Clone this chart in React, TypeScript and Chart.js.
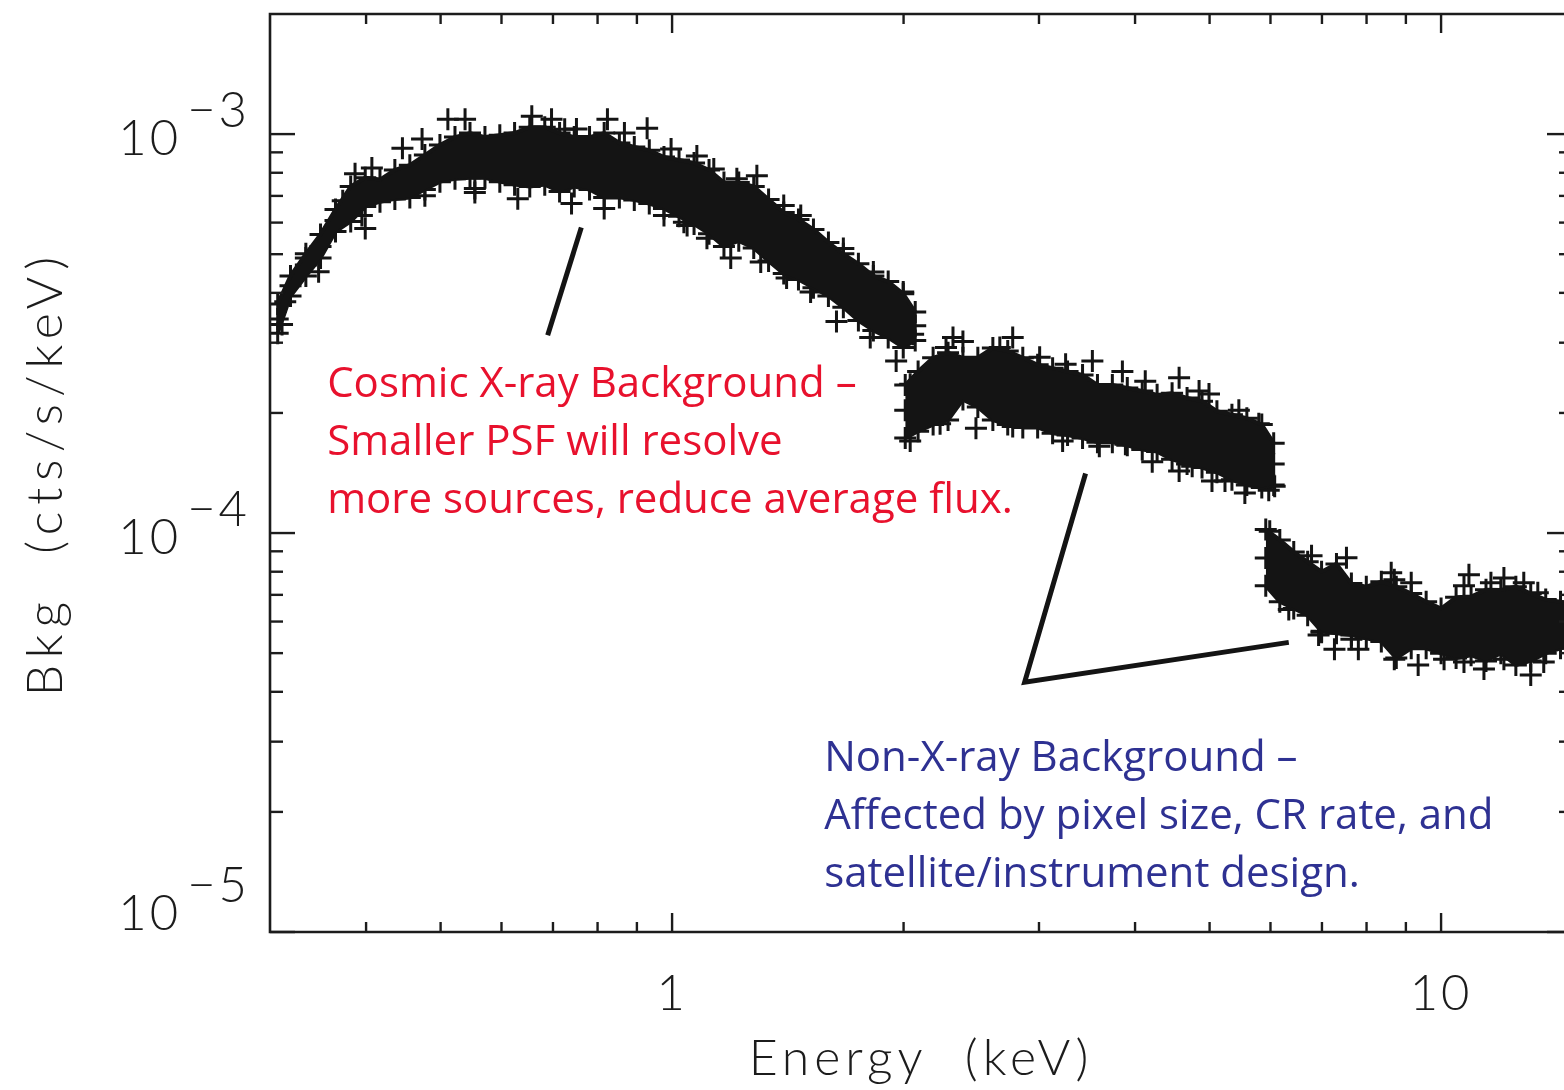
import React, { useEffect, useRef } from "react";
import { Chart, registerables } from "chart.js";

Chart.register(...registerables);

// ---------------- Data: energy (keV) vs background (cts/s/keV) ----------------
// Cosmic X-ray background dominated part (0.3 – 2 keV)
const cxbEnergy = [
  0.307, 0.319, 0.334, 0.349, 0.365, 0.382, 0.399, 0.417, 0.436, 0.456, 0.477,
  0.499, 0.522, 0.546, 0.571, 0.597, 0.624, 0.653, 0.683, 0.714, 0.746, 0.781,
  0.816, 0.854, 0.893, 0.934, 0.976, 1.021, 1.068, 1.117, 1.168, 1.221, 1.277,
  1.335, 1.397, 1.46, 1.527, 1.597, 1.67, 1.747, 1.827, 1.91, 1.998, 2.071,
];
const cxbUpper = [
  3.75e-4, 4.41e-4, 5.01e-4, 5.6e-4, 6.47e-4, 7.39e-4, 7.77e-4, 7.69e-4, 8.13e-4, 8.36e-4, 8.86e-4,
  9.39e-4, 9.83e-4, 1.006e-3, 9.83e-4, 9.94e-4, 1.006e-3, 1.041e-3, 1.041e-3, 1.006e-3, 9.83e-4, 9.83e-4,
  1.006e-3, 9.5e-4, 9.28e-4, 9.11e-4, 8.76e-4, 8.61e-4, 8.46e-4, 8.13e-4, 7.56e-4, 7.56e-4, 7.39e-4,
  6.86e-4, 6.36e-4, 6.11e-4, 5.77e-4, 5.35e-4, 5.01e-4, 4.73e-4, 4.41e-4, 4.27e-4, 3.98e-4, 3.58e-4,
];
const cxbMiddle = [
  3.44e-4, 4.17e-4, 4.7e-4, 5.23e-4, 6.07e-4, 6.7e-4, 7.18e-4, 7.22e-4, 7.52e-4, 7.64e-4, 8.03e-4,
  8.41e-4, 8.71e-4, 8.86e-4, 8.76e-4, 8.71e-4, 8.66e-4, 8.76e-4, 8.81e-4, 8.51e-4, 8.51e-4, 8.46e-4,
  8.36e-4, 8.13e-4, 8.0e-4, 7.82e-4, 7.56e-4, 7.35e-4, 7.1e-4, 6.77e-4, 6.29e-4, 6.39e-4, 6.18e-4,
  5.73e-4, 5.32e-4, 5.14e-4, 4.89e-4, 4.59e-4, 4.29e-4, 4.02e-4, 3.77e-4, 3.62e-4, 3.41e-4, 3.31e-4,
];
const cxbLower = [
  3.17e-4, 3.93e-4, 4.41e-4, 4.89e-4, 5.7e-4, 6.04e-4, 6.58e-4, 6.77e-4, 6.88e-4, 6.94e-4, 7.26e-4,
  7.6e-4, 7.73e-4, 7.77e-4, 7.77e-4, 7.6e-4, 7.47e-4, 7.39e-4, 7.47e-4, 7.18e-4, 7.39e-4, 7.26e-4,
  6.94e-4, 6.94e-4, 6.84e-4, 6.7e-4, 6.51e-4, 6.22e-4, 5.95e-4, 5.63e-4, 5.23e-4, 5.4e-4, 5.18e-4,
  4.81e-4, 4.47e-4, 4.32e-4, 4.12e-4, 3.93e-4, 3.68e-4, 3.41e-4, 3.22e-4, 3.09e-4, 2.92e-4, 3.04e-4,
];

// Non-X-ray background, 2 – 6 keV
const nxbEnergy = [
  2.01, 2.089, 2.185, 2.285, 2.389, 2.498, 2.613, 2.732, 2.858, 2.988, 3.125, 3.268, 3.418,
  3.574, 3.737, 3.908, 4.087, 4.273, 4.469, 4.674, 4.888, 5.111, 5.346, 5.59, 5.846, 6.058,
];
const nxbUpper = [
  2.35e-4, 2.54e-4, 2.75e-4, 2.83e-4, 2.75e-4, 2.75e-4, 2.91e-4, 2.86e-4, 2.75e-4, 2.64e-4, 2.59e-4, 2.54e-4, 2.49e-4,
  2.35e-4, 2.35e-4, 2.31e-4, 2.27e-4, 2.22e-4, 2.24e-4, 2.18e-4, 2.14e-4, 2.02e-4, 1.98e-4, 1.94e-4, 1.87e-4, 1.68e-4,
];
const nxbMiddle = [
  2.03e-4, 2.15e-4, 2.26e-4, 2.32e-4, 2.43e-4, 2.39e-4, 2.36e-4, 2.31e-4, 2.24e-4, 2.2e-4, 2.15e-4, 2.12e-4, 2.09e-4,
  2.0e-4, 1.94e-4, 1.96e-4, 1.92e-4, 1.89e-4, 1.86e-4, 1.8e-4, 1.77e-4, 1.69e-4, 1.64e-4, 1.61e-4, 1.56e-4, 1.49e-4,
];
const nxbLower = [
  1.73e-4, 1.8e-4, 1.87e-4, 1.92e-4, 2.16e-4, 2.07e-4, 1.92e-4, 1.87e-4, 1.84e-4, 1.84e-4, 1.78e-4, 1.76e-4, 1.73e-4,
  1.69e-4, 1.69e-4, 1.66e-4, 1.62e-4, 1.6e-4, 1.53e-4, 1.49e-4, 1.46e-4, 1.42e-4, 1.36e-4, 1.32e-4, 1.3e-4, 1.32e-4,
];

// Non-X-ray background, above 6 keV
const hardEnergy = [
  5.916, 6.17, 6.433, 6.707, 6.992, 7.311, 7.645, 7.994, 8.362, 8.745, 9.145,
  9.563, 10.0, 10.46, 10.94, 11.44, 11.96, 12.51, 13.08, 13.68, 14.3, 14.83,
];
const hardUpper = [
  1.02e-4, 9.61e-5, 8.97e-5, 8.47e-5, 8.0e-5, 8.37e-5, 7.47e-5, 7.34e-5, 7.55e-5, 7.34e-5, 7.05e-5,
  6.73e-5, 6.47e-5, 6.9e-5, 6.93e-5, 7.21e-5, 7.2e-5, 7.34e-5, 7.05e-5, 6.81e-5, 6.73e-5, 6.62e-5,
];
const hardMiddle = [
  8.66e-5, 8.04e-5, 7.64e-5, 7.26e-5, 6.73e-5, 6.85e-5, 6.43e-5, 6.32e-5, 6.36e-5, 5.97e-5, 6.04e-5,
  5.9e-5, 5.71e-5, 6.04e-5, 5.87e-5, 5.87e-5, 6.14e-5, 5.87e-5, 5.8e-5, 5.84e-5, 5.9e-5, 5.9e-5,
];
const hardLower = [
  7.38e-5, 6.73e-5, 6.47e-5, 6.22e-5, 5.67e-5, 5.61e-5, 5.55e-5, 5.45e-5, 5.35e-5, 4.86e-5, 5.14e-5,
  5.14e-5, 5.0e-5, 4.86e-5, 4.94e-5, 4.78e-5, 5.0e-5, 4.67e-5, 4.78e-5, 5.0e-5, 5.14e-5, 5.23e-5,
];

// Individual points visible along the edges of the band
const edgeEnergy = [
  0.511, 0.538, 0.473, 0.373, 0.334, 0.314, 0.311, 0.395, 0.477, 0.554,
  0.63, 0.976, 1.046, 1.11, 0.725, 0.997, 1.077, 1.133, 1.214, 1.289,
  1.397, 1.47, 1.67, 1.827, 1.998, 1.036, 1.304, 1.409, 1.514, 2.058,
  2.04, 2.271, 2.389, 2.668, 3.006, 3.249, 4.124, 4.991, 5.794, 2.773, 3.22, 3.594, 3.886, 4.746, 5.236, 6.076,
  6.785, 8.693, 9.145, 10.71, 11.61, 13.36, 6.992, 7.645, 8.693, 10.09, 10.71, 12.07, 13.6,
];
const edgeValue = [
  1.09e-3, 1.09e-3, 9.72e-4, 6.81e-4, 4.89e-4, 3.8e-4, 3.33e-4, 6.25e-4, 7.01e-4, 7.3e-4,
  6.89e-4, 6.25e-4, 5.9e-4, 5.48e-4, 1.029e-3, 9.18e-4, 8.81e-4, 8.18e-4, 7.73e-4, 7.86e-4,
  6.62e-4, 6.25e-4, 5.17e-4, 4.51e-4, 4.02e-4, 6.01e-4, 4.78e-4, 4.36e-4, 4.02e-4, 3.15e-4,
  2.36e-4, 2.92e-4, 3.02e-4, 2.92e-4, 2.76e-4, 2.65e-4, 2.4e-4, 2.23e-4, 1.88e-4, 1.85e-4, 1.7e-4, 1.65e-4, 1.67e-4, 1.47e-4, 1.35e-4, 1.31e-4,
  8.77e-5, 7.64e-5, 7.51e-5, 7.38e-5, 7.51e-5, 7.09e-5, 5.64e-5, 5.42e-5, 4.83e-5, 4.83e-5, 4.75e-5, 4.83e-5, 4.75e-5,
];

// Scattered points lying outside the dense band
const outlierEnergy = [
  0.387, 0.407, 0.446, 0.657, 0.697, 0.751, 0.824, 0.867, 0.928, 0.399, 0.347, 0.74, 0.816, 0.554,
  1.192, 1.636, 1.81, 1.956,
  2.319, 2.773, 3.52, 3.851, 4.564, 4.845, 5.458, 2.04, 2.231, 2.484, 4.211, 4.564, 5.036, 5.557, 5.969,
  5.987, 7.533, 8.613, 10.87, 12.07, 12.81, 6.338, 6.93, 7.267, 7.806, 9.337, 11.37, 13.08,
];
const outlierValue = [
  7.95e-4, 8.22e-4, 9.22e-4, 1.108e-3, 1.09e-3, 1.03e-3, 1.09e-3, 1.006e-3, 1.035e-3, 5.8e-4, 4.52e-4, 6.7e-4, 6.51e-4, 7.14e-4,
  4.89e-4, 3.39e-4, 3.09e-4, 2.7e-4,
  3.09e-4, 3.09e-4, 2.7e-4, 2.54e-4, 2.45e-4, 2.27e-4, 2.03e-4, 1.7e-4, 1.88e-4, 1.83e-4, 1.51e-4, 1.43e-4, 1.35e-4, 1.26e-4, 1.28e-4,
  1.01e-4, 8.67e-5, 7.95e-5, 7.86e-5, 7.72e-5, 7.51e-5, 6.43e-5, 5.55e-5, 5.11e-5, 5.11e-5, 4.67e-5, 4.56e-5, 4.41e-5,
];

// Axes
const X_MIN = 0.305;
const X_MAX = 14.8;
const Y_MIN = 1e-5;
const Y_MAX = 2e-3;
const xTickMajor = [1, 10];
const xTickLabels = ["1", "10"];
const xTickMinor = [0.4, 0.5, 0.6, 0.7, 0.8, 0.9, 2, 3, 4, 5, 6, 7, 8, 9];
const yTickMajor = [1e-5, 1e-4, 1e-3];
const yTickExponents = ["−5", "−4", "−3"];
const yTickMinor = [
  2e-5, 3e-5, 4e-5, 5e-5, 6e-5, 7e-5, 8e-5, 9e-5,
  2e-4, 3e-4, 4e-4, 5e-4, 6e-4, 7e-4, 8e-4, 9e-4,
];
const xAxisTitle = "Energy  (keV)";
const yAxisTitle = "Bkg  (cts/s/keV)";

// Annotations (anchored in data coordinates)
const cxbNote = [
  "Cosmic X-ray Background –",
  "Smaller PSF will resolve",
  "more sources, reduce average flux.",
];
const cxbNoteAnchor = [0.356, 2.19e-4];
const cxbPointer = [
  [0.762, 5.83e-4],
  [0.689, 3.13e-4],
];
const nxbNote = [
  "Non-X-ray Background –",
  "Affected by pixel size, CR rate, and",
  "satellite/instrument design.",
];
const nxbNoteAnchor = [1.577, 2.53e-5];
const nxbPointer = [
  [3.449, 1.41e-4],
  [2.874, 4.23e-5],
  [6.338, 5.32e-5],
];

// ---------------- Styling ----------------
const CANVAS_W = 1600;
const CANVAS_H = 1090;
const INK = "#141414";
const AXIS_COLOR = "#1c1c1c";
const RED = "#E8112D";
const BLUE = "#2E3192";
const AXIS_FONT = '"Lato", "DejaVu Sans", sans-serif';
const NOTE_FONT = '"Open Sans", "Noto Sans", sans-serif';

const pts = (xs: number[], ys: number[]) => xs.map((x, i) => ({ x, y: ys[i] }));

const segments = [
  { energy: cxbEnergy, upper: cxbUpper, middle: cxbMiddle, lower: cxbLower },
  { energy: nxbEnergy, upper: nxbUpper, middle: nxbMiddle, lower: nxbLower },
  { energy: hardEnergy, upper: hardUpper, middle: hardMiddle, lower: hardLower },
];

function buildDatasets() {
  const ds: any[] = [];
  const crosses: { x: number; y: number }[] = [];
  segments.forEach((s) => {
    ds.push({
      data: pts(s.energy, s.upper),
      fill: "+1",
      backgroundColor: INK,
      borderColor: INK,
      borderWidth: 4,
      borderJoinStyle: "round",
      pointRadius: 0,
      tension: 0,
      clip: 0,
    });
    ds.push({
      data: pts(s.energy, s.lower),
      fill: false,
      borderColor: INK,
      borderWidth: 4,
      borderJoinStyle: "round",
      pointRadius: 0,
      tension: 0,
      clip: 0,
    });
    crosses.push(...pts(s.energy, s.upper), ...pts(s.energy, s.middle), ...pts(s.energy, s.lower));
  });
  crosses.push(...pts(edgeEnergy, edgeValue));
  crosses.push(...pts(outlierEnergy, outlierValue));
  ds.push({
    data: crosses,
    showLine: false,
    pointStyle: "cross",
    pointRadius: 11,
    pointBorderWidth: 3,
    pointBorderColor: INK,
    pointBackgroundColor: INK,
    clip: 0,
  });
  return ds;
}

const axesPlugin = {
  id: "idlAxes",
  afterDatasetsDraw(chart: any) {
    const { ctx, chartArea: a, scales } = chart;
    const xs = scales.x;
    const ys = scales.y;
    ctx.save();
    ctx.strokeStyle = AXIS_COLOR;
    ctx.lineWidth = 2.6;
    ctx.lineCap = "butt";
    ctx.beginPath();
    ctx.rect(a.left, a.top, a.right - a.left, a.bottom - a.top);
    ctx.stroke();
    const seg = (x1: number, y1: number, x2: number, y2: number) => {
      ctx.beginPath();
      ctx.moveTo(x1, y1);
      ctx.lineTo(x2, y2);
      ctx.stroke();
    };
    ctx.lineWidth = 2.4;
    xTickMajor.forEach((v) => {
      const px = xs.getPixelForValue(v);
      seg(px, a.bottom, px, a.bottom - 19);
      seg(px, a.top, px, a.top + 19);
    });
    xTickMinor.forEach((v) => {
      const px = xs.getPixelForValue(v);
      seg(px, a.bottom, px, a.bottom - 10);
      seg(px, a.top, px, a.top + 10);
    });
    yTickMajor.forEach((v) => {
      const py = ys.getPixelForValue(v);
      seg(a.left, py, a.left + 25, py);
      seg(a.right, py, a.right - 25, py);
    });
    yTickMinor.forEach((v) => {
      const py = ys.getPixelForValue(v);
      seg(a.left, py, a.left + 13, py);
      seg(a.right, py, a.right - 13, py);
    });

    // tick labels
    ctx.fillStyle = AXIS_COLOR;
    ctx.font = `300 49px ${AXIS_FONT}`;
    ctx.letterSpacing = "3px";
    ctx.textBaseline = "alphabetic";
    ctx.textAlign = "center";
    xTickMajor.forEach((v, i) => {
      const px = xs.getPixelForValue(v);
      ctx.fillText(xTickLabels[i], px, a.bottom + 78);
    });
    ctx.textAlign = "left";
    yTickMajor.forEach((v, i) => {
      const py = ys.getPixelForValue(v);
      const base = Math.min(py + 21, a.bottom - 2);
      const exp = yTickExponents[i];
      const wBase = ctx.measureText("10").width;
      const wExp = ctx.measureText(exp).width;
      const right = a.left - 20;
      const x0 = right - wExp - 6 - wBase;
      ctx.fillText("10", x0, base);
      ctx.fillText(exp, right - wExp, base - 28);
    });

    // axis titles
    ctx.font = `300 50px ${AXIS_FONT}`;
    ctx.letterSpacing = "5px";
    ctx.textAlign = "center";
    ctx.fillText(xAxisTitle, (a.left + a.right) / 2, a.bottom + 143);
    ctx.save();
    ctx.letterSpacing = "7px";
    ctx.translate(62, (a.top + a.bottom) / 2);
    ctx.rotate(-Math.PI / 2);
    ctx.fillText(yAxisTitle, 0, 0);
    ctx.restore();
    ctx.restore();
  },
};

const notesPlugin = {
  id: "notes",
  afterDatasetsDraw(chart: any) {
    const { ctx, scales } = chart;
    const xs = scales.x;
    const ys = scales.y;
    ctx.save();
    ctx.strokeStyle = INK;
    ctx.lineWidth = 5;
    ctx.lineCap = "butt";
    ctx.lineJoin = "miter";
    [cxbPointer, nxbPointer].forEach((line) => {
      ctx.beginPath();
      line.forEach(([e, v], i) => {
        const px = xs.getPixelForValue(e);
        const py = ys.getPixelForValue(v);
        if (i === 0) ctx.moveTo(px, py);
        else ctx.lineTo(px, py);
      });
      ctx.stroke();
    });
    ctx.font = `42px ${NOTE_FONT}`;
    ctx.textAlign = "left";
    ctx.textBaseline = "alphabetic";
    const drawNote = (lines: string[], anchor: number[], color: string) => {
      ctx.fillStyle = color;
      const px = xs.getPixelForValue(anchor[0]);
      const py = ys.getPixelForValue(anchor[1]);
      lines.forEach((t, i) => ctx.fillText(t, px, py + i * 58));
    };
    drawNote(cxbNote, cxbNoteAnchor, RED);
    drawNote(nxbNote, nxbNoteAnchor, BLUE);
    ctx.restore();
  },
};

export default function App() {
  const ref = useRef<HTMLCanvasElement | null>(null);
  useEffect(() => {
    if (!ref.current) return;
    const chart = new Chart(ref.current, {
      type: "line",
      data: { datasets: buildDatasets() },
      options: {
        animation: false,
        responsive: false,
        events: [],
        layout: {
          padding: { left: 270, top: 7, right: CANVAS_W - 1572, bottom: CANVAS_H - 932 },
        },
        plugins: {
          legend: { display: false },
          tooltip: { enabled: false },
        },
        scales: {
          x: { type: "logarithmic", min: X_MIN, max: X_MAX, display: false },
          y: { type: "logarithmic", min: Y_MIN, max: Y_MAX, display: false },
        },
      } as any,
      plugins: [axesPlugin, notesPlugin],
    });
    return () => chart.destroy();
  }, []);
  return (
    <div
      style={{
        position: "fixed",
        left: 0,
        top: 0,
        width: 1564,
        height: 1090,
        overflow: "hidden",
        background: "#fff",
      }}
    >
      <canvas
        ref={ref}
        width={CANVAS_W}
        height={CANVAS_H}
        style={{ display: "block", width: CANVAS_W, height: CANVAS_H }}
      />
    </div>
  );
}
